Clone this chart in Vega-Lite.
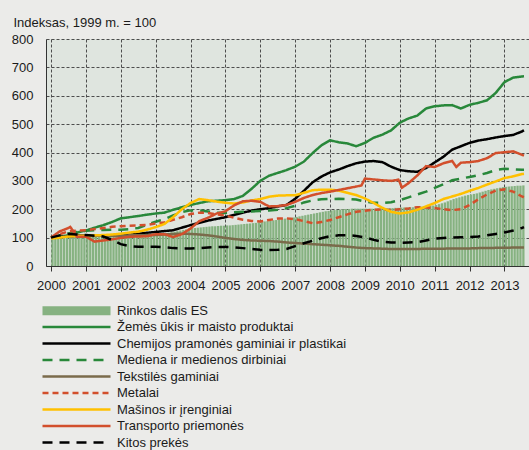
{
"$schema":"https://vega.github.io/schema/vega-lite/v6.json",
"width":483,"height":227,
"autosize":{"type":"none"},
"padding":{"left":46,"top":39,"right":0,"bottom":184},
"background":"#ebebe9",
"config":{
 "font":"Liberation Sans, Arial, sans-serif",
 "view":{"fill":"#dfe5df","stroke":null},
 "axis":{"labelFont":"Liberation Sans, Arial, sans-serif","labelFontSize":13,"labelColor":"#1a1a1a","titleFont":"Liberation Sans, Arial, sans-serif","titleFontSize":13,"titleFontWeight":"normal","titleColor":"#1a1a1a","gridColor":"#4d4d4d","gridDash":[3,2],"gridWidth":1,"domainColor":"#333333","domainWidth":1,"tickColor":"#333333"},
 "legend":{"labelFont":"Liberation Sans, Arial, sans-serif","labelFontSize":13,"labelColor":"#1a1a1a","labelLimit":400,"padding":0,"rowPadding":1.5}
},
"datasets":{
"names":[{"k":"Z","series":"Žemės ūkis ir maisto produktai"},{"k":"C","series":"Chemijos pramonės gaminiai ir plastikai"},{"k":"M","series":"Mediena ir medienos dirbiniai"},{"k":"T","series":"Tekstilės gaminiai"},{"k":"Me","series":"Metalai"},{"k":"Ma","series":"Mašinos ir įrenginiai"},{"k":"Tr","series":"Transporto priemonės"},{"k":"K","series":"Kitos prekės"}],
"lines":[
{"t":2000,"Z":100,"C":100,"M":100,"T":100,"Me":100,"Ma":97,"Tr":100,"K":100},
{"t":2000.25,"Z":104,"C":102,"M":108,"T":102,"Me":112,"Ma":100,"Tr":122,"K":108},
{"t":2000.5,"Z":108,"C":105,"M":115,"T":104,"Me":122,"Ma":104,"Tr":134,"K":113},
{"t":2000.55,"Tr":138},
{"t":2000.75,"Z":118,"C":107,"M":120,"T":105,"Me":125,"Ma":106,"Tr":103,"K":111},
{"t":2001,"Z":125,"C":108,"M":124,"T":106,"Me":126,"Ma":107,"Tr":103,"K":109},
{"t":2001.25,"Z":135,"C":107,"M":126,"T":106,"Me":130,"Ma":108,"Tr":86,"K":107},
{"t":2001.5,"Z":144,"C":106,"M":127,"T":107,"Me":134,"Ma":109,"Tr":90,"K":104},
{"t":2001.75,"Z":155,"C":107,"M":128,"T":107,"Me":138,"Ma":111,"Tr":94,"K":92},
{"t":2002,"Z":168,"C":108,"M":128,"T":107,"Me":140,"Ma":114,"Tr":99,"K":77},
{"t":2002.25,"Z":172,"C":110,"M":130,"T":108,"Me":142,"Ma":118,"Tr":103,"K":70},
{"t":2002.5,"Z":176,"C":113,"M":134,"T":108,"Me":143,"Ma":121,"Tr":104,"K":68},
{"t":2002.75,"Z":181,"C":117,"M":145,"T":109,"Me":145,"Ma":128,"Tr":105,"K":68},
{"t":2003,"Z":185,"C":120,"M":156,"T":109,"Me":150,"Ma":137,"Tr":112,"K":68},
{"t":2003.25,"Z":188,"C":123,"M":165,"T":111,"Me":153,"Ma":148,"Tr":112,"K":66},
{"t":2003.5,"Z":198,"C":126,"M":178,"T":113,"Me":163,"Ma":172,"Tr":102,"K":63},
{"t":2003.75,"Z":207,"C":135,"M":190,"T":114,"Me":172,"Ma":200,"Tr":112,"K":62},
{"t":2004,"Z":215,"C":144,"M":196,"T":113,"Me":183,"Ma":222,"Tr":132,"K":62},
{"t":2004.25,"Z":222,"C":152,"M":196,"T":111,"Me":188,"Ma":236,"Tr":158,"K":63},
{"t":2004.5,"Z":228,"C":160,"M":192,"T":108,"Me":187,"Ma":232,"Tr":170,"K":65},
{"t":2004.75,"Z":230,"C":166,"M":188,"T":104,"Me":182,"Ma":227,"Tr":185,"K":67},
{"t":2005,"Z":232,"C":172,"M":187,"T":99,"Me":178,"Ma":223,"Tr":193,"K":67},
{"t":2005.25,"Z":236,"C":180,"M":189,"T":95,"Me":170,"Ma":220,"Tr":214,"K":66},
{"t":2005.5,"Z":247,"C":188,"M":191,"T":92,"Me":163,"Ma":224,"Tr":228,"K":63},
{"t":2005.75,"Z":272,"C":195,"M":192,"T":90,"Me":159,"Ma":231,"Tr":230,"K":60},
{"t":2006,"Z":300,"C":200,"M":194,"T":89,"Me":157,"Ma":236,"Tr":226,"K":57},
{"t":2006.25,"Z":318,"C":204,"M":196,"T":88,"Me":162,"Ma":244,"Tr":210,"K":56},
{"t":2006.5,"Z":328,"C":210,"M":198,"T":86,"Me":167,"Ma":248,"Tr":211,"K":57},
{"t":2006.75,"Z":338,"C":215,"M":204,"T":83,"Me":168,"Ma":249,"Tr":215,"K":60},
{"t":2007,"Z":350,"C":237,"M":212,"T":81,"Me":165,"Ma":249,"Tr":226,"K":70},
{"t":2007.25,"Z":368,"C":265,"M":224,"T":79,"Me":158,"Ma":258,"Tr":240,"K":80},
{"t":2007.5,"Z":398,"C":295,"M":231,"T":77,"Me":151,"Ma":267,"Tr":250,"K":89},
{"t":2007.75,"Z":425,"C":315,"M":235,"T":75,"Me":155,"Ma":269,"Tr":257,"K":98},
{"t":2008,"Z":443,"C":330,"M":236,"T":73,"Me":162,"Ma":269,"Tr":262,"K":105},
{"t":2008.25,"Z":436,"C":340,"M":237,"T":71,"Me":172,"Ma":266,"Tr":268,"K":108},
{"t":2008.5,"Z":432,"C":352,"M":236,"T":68,"Me":182,"Ma":258,"Tr":274,"K":109},
{"t":2008.75,"Z":422,"C":362,"M":234,"T":65,"Me":191,"Ma":250,"Tr":280,"K":106},
{"t":2008.9,"Tr":284},
{"t":2009,"Z":434,"C":368,"M":227,"T":63,"Me":195,"Ma":238,"Tr":308,"K":101},
{"t":2009.25,"Z":452,"C":370,"M":223,"T":62,"Me":198,"Ma":222,"Tr":305,"K":92},
{"t":2009.5,"Z":463,"C":366,"M":222,"T":61,"Me":199,"Ma":205,"Tr":302,"K":85},
{"t":2009.75,"Z":478,"C":350,"M":225,"T":60,"Me":197,"Ma":191,"Tr":300,"K":83},
{"t":2009.96,"Tr":304},
{"t":2010,"Z":505,"C":338,"M":232,"T":60,"Me":200,"Ma":185,"Tr":295,"K":82},
{"t":2010.06,"Tr":276},
{"t":2010.25,"Z":520,"C":334,"M":242,"T":60,"Me":203,"Ma":189,"Tr":292,"K":83},
{"t":2010.5,"Z":530,"C":332,"M":252,"T":60,"Me":207,"Ma":198,"Tr":319,"K":84},
{"t":2010.75,"Z":555,"C":345,"M":262,"T":61,"Me":206,"Ma":210,"Tr":352,"K":90},
{"t":2011,"Z":563,"C":365,"M":275,"T":61,"Me":204,"Ma":222,"Tr":349,"K":96},
{"t":2011.25,"Z":566,"C":385,"M":288,"T":61,"Me":200,"Ma":236,"Tr":362,"K":99},
{"t":2011.5,"Z":567,"C":410,"M":302,"T":62,"Me":197,"Ma":245,"Tr":370,"K":100},
{"t":2011.62,"Tr":349},
{"t":2011.75,"Z":555,"C":422,"M":308,"T":62,"Me":200,"Ma":254,"Tr":364,"K":101},
{"t":2012,"Z":568,"C":434,"M":314,"T":62,"Me":215,"Ma":265,"Tr":366,"K":102},
{"t":2012.25,"Z":575,"C":442,"M":320,"T":63,"Me":235,"Ma":275,"Tr":370,"K":104},
{"t":2012.5,"Z":584,"C":447,"M":328,"T":63,"Me":252,"Ma":287,"Tr":380,"K":108},
{"t":2012.75,"Z":610,"C":453,"M":338,"T":64,"Me":266,"Ma":298,"Tr":398,"K":113},
{"t":2013,"Z":648,"C":458,"M":343,"T":64,"Me":270,"Ma":310,"Tr":401,"K":118},
{"t":2013.25,"Z":664,"C":462,"M":341,"T":65,"Me":262,"Ma":316,"Tr":404,"K":125},
{"t":2013.5,"Z":668,"C":474,"M":339,"T":65,"Me":245,"Ma":324,"Tr":392,"K":134},
{"t":2013.56,"Z":669,"C":478,"M":339,"T":65,"Me":242,"Ma":325,"Tr":389,"K":137}
],
"bars":[
{"t":2000.042,"v":100},{"t":2000.125,"v":100},{"t":2000.208,"v":100},{"t":2000.292,"v":101},{"t":2000.375,"v":101},{"t":2000.458,"v":101},{"t":2000.542,"v":101},{"t":2000.625,"v":102},{"t":2000.708,"v":102},{"t":2000.792,"v":102},{"t":2000.875,"v":102},{"t":2000.958,"v":102},
{"t":2001.042,"v":102},{"t":2001.125,"v":102},{"t":2001.208,"v":103},{"t":2001.292,"v":103},{"t":2001.375,"v":103},{"t":2001.458,"v":103},{"t":2001.542,"v":103},{"t":2001.625,"v":104},{"t":2001.708,"v":104},{"t":2001.792,"v":104},{"t":2001.875,"v":104},{"t":2001.958,"v":104},
{"t":2002.042,"v":104},{"t":2002.125,"v":104},{"t":2002.208,"v":105},{"t":2002.292,"v":105},{"t":2002.375,"v":105},{"t":2002.458,"v":106},{"t":2002.542,"v":106},{"t":2002.625,"v":106},{"t":2002.708,"v":107},{"t":2002.792,"v":107},{"t":2002.875,"v":108},{"t":2002.958,"v":109},
{"t":2003.042,"v":110},{"t":2003.125,"v":111},{"t":2003.208,"v":113},{"t":2003.292,"v":115},{"t":2003.375,"v":117},{"t":2003.458,"v":119},{"t":2003.542,"v":121},{"t":2003.625,"v":123},{"t":2003.708,"v":125},{"t":2003.792,"v":127},{"t":2003.875,"v":129},{"t":2003.958,"v":131},
{"t":2004.042,"v":133},{"t":2004.125,"v":134},{"t":2004.208,"v":135},{"t":2004.292,"v":136},{"t":2004.375,"v":137},{"t":2004.458,"v":138},{"t":2004.542,"v":139},{"t":2004.625,"v":140},{"t":2004.708,"v":140},{"t":2004.792,"v":141},{"t":2004.875,"v":142},{"t":2004.958,"v":142},
{"t":2005.042,"v":143},{"t":2005.125,"v":143},{"t":2005.208,"v":144},{"t":2005.292,"v":145},{"t":2005.375,"v":146},{"t":2005.458,"v":147},{"t":2005.542,"v":148},{"t":2005.625,"v":149},{"t":2005.708,"v":150},{"t":2005.792,"v":151},{"t":2005.875,"v":152},{"t":2005.958,"v":154},
{"t":2006.042,"v":156},{"t":2006.125,"v":157},{"t":2006.208,"v":158},{"t":2006.292,"v":159},{"t":2006.375,"v":161},{"t":2006.458,"v":162},{"t":2006.542,"v":164},{"t":2006.625,"v":165},{"t":2006.708,"v":167},{"t":2006.792,"v":168},{"t":2006.875,"v":170},{"t":2006.958,"v":171},
{"t":2007.042,"v":173},{"t":2007.125,"v":175},{"t":2007.208,"v":177},{"t":2007.292,"v":179},{"t":2007.375,"v":181},{"t":2007.458,"v":183},{"t":2007.542,"v":185},{"t":2007.625,"v":187},{"t":2007.708,"v":189},{"t":2007.792,"v":191},{"t":2007.875,"v":193},{"t":2007.958,"v":194},
{"t":2008.042,"v":196},{"t":2008.125,"v":197},{"t":2008.208,"v":198},{"t":2008.292,"v":199},{"t":2008.375,"v":200},{"t":2008.458,"v":201},{"t":2008.542,"v":201},{"t":2008.625,"v":202},{"t":2008.708,"v":202},{"t":2008.792,"v":202},{"t":2008.875,"v":202},{"t":2008.958,"v":202},
{"t":2009.042,"v":202},{"t":2009.125,"v":202},{"t":2009.208,"v":202},{"t":2009.292,"v":202},{"t":2009.375,"v":203},{"t":2009.458,"v":203},{"t":2009.542,"v":203},{"t":2009.625,"v":203},{"t":2009.708,"v":204},{"t":2009.792,"v":204},{"t":2009.875,"v":205},{"t":2009.958,"v":205},
{"t":2010.042,"v":206},{"t":2010.125,"v":206},{"t":2010.208,"v":206},{"t":2010.292,"v":207},{"t":2010.375,"v":207},{"t":2010.458,"v":208},{"t":2010.542,"v":208},{"t":2010.625,"v":209},{"t":2010.708,"v":210},{"t":2010.792,"v":211},{"t":2010.875,"v":212},{"t":2010.958,"v":213},
{"t":2011.042,"v":215},{"t":2011.125,"v":218},{"t":2011.208,"v":221},{"t":2011.292,"v":224},{"t":2011.375,"v":228},{"t":2011.458,"v":232},{"t":2011.542,"v":236},{"t":2011.625,"v":239},{"t":2011.708,"v":242},{"t":2011.792,"v":245},{"t":2011.875,"v":248},{"t":2011.958,"v":250},
{"t":2012.042,"v":252},{"t":2012.125,"v":254},{"t":2012.208,"v":256},{"t":2012.292,"v":259},{"t":2012.375,"v":262},{"t":2012.458,"v":265},{"t":2012.542,"v":268},{"t":2012.625,"v":270},{"t":2012.708,"v":272},{"t":2012.792,"v":274},{"t":2012.875,"v":276},{"t":2012.958,"v":278},
{"t":2013.042,"v":279},{"t":2013.125,"v":280},{"t":2013.208,"v":281},{"t":2013.292,"v":282},{"t":2013.375,"v":283},{"t":2013.458,"v":283},{"t":2013.542,"v":284}
]
},
"encoding":{
 "x":{"field":"t","type":"quantitative","scale":{"domain":[2000,2013.56],"nice":false,"zero":false},
  "axis":{"title":null,"values":[2000,2000.5,2001,2001.5,2002,2002.5,2003,2003.5,2004,2004.5,2005,2005.5,2006,2006.5,2007,2007.5,2008,2008.5,2009,2009.5,2010,2010.5,2011,2011.5,2012,2012.5,2013,2013.5],"format":"d","labelExpr":"datum.value % 1 === 0 ? datum.label : ''","labelOverlap":false,"labelFlush":false,"labelBound":false,"tickSize":5,"labelPadding":8,"grid":true,"gridOpacity":{"condition":{"test":"datum.value % 1 === 0","value":1},"value":0}}},
 "y":{"field":"v","type":"quantitative","scale":{"domain":[0,800],"nice":false},
  "axis":{"title":"Indeksas, 1999 m. = 100","titleAngle":0,"titleAlign":"left","titleBaseline":"alphabetic","titleX":-33,"titleY":-12.5,"values":[0,100,200,300,400,500,600,700,800],"ticks":false,"labelPadding":13,"grid":true}}
},
"layer":[
 {"data":{"name":"bars"},"mark":{"type":"bar","orient":"vertical","width":2.3},
  "encoding":{"fill":{"datum":"Rinkos dalis ES","type":"nominal","scale":{"range":["#86b281"]},
   "legend":{"orient":"none","legendX":24,"legendY":265.2,"title":null,"symbolType":"M-5.667,-0.75H5.667V0.75H-5.667Z","symbolSize":144,"symbolStrokeWidth":0,"symbolOpacity":1,"labelOffset":34}}}},
 {"data":{"name":"lines"},
  "transform":[{"fold":["Z","C","M","T","Me","Ma","Tr","K"],"as":["k","v"]},{"filter":"isValid(datum.v)"},{"lookup":"k","from":{"data":{"name":"names"},"key":"k","fields":["series"]}}],
  "mark":{"type":"line","strokeWidth":2.5},
  "encoding":{
   "stroke":{"field":"series","type":"nominal","scale":{"domain":["Žemės ūkis ir maisto produktai","Chemijos pramonės gaminiai ir plastikai","Mediena ir medienos dirbiniai","Tekstilės gaminiai","Metalai","Mašinos ir įrenginiai","Transporto priemonės","Kitos prekės"],"range":["#28883a","#000000","#28883a","#7a6b4b","#d24f2c","#ffc000","#d24f2c","#000000"]},
    "legend":{"orient":"none","legendX":23,"legendY":280.5,"title":null,"symbolType":"M-5.667,0H5.667","symbolSize":144,"symbolStrokeWidth":2.5,"labelOffset":33}},
   "strokeDash":{"field":"series","type":"nominal","scale":{"domain":["Žemės ūkis ir maisto produktai","Chemijos pramonės gaminiai ir plastikai","Mediena ir medienos dirbiniai","Tekstilės gaminiai","Metalai","Mašinos ir įrenginiai","Transporto priemonės","Kitos prekės"],"range":[[1,0],[1,0],[10,7],[1,0],[6,4],[1,0],[1,0],[10,7]]},
    "legend":{"orient":"none","legendX":23,"legendY":280.5,"title":null,"symbolType":"M-5.667,0H5.667","symbolSize":144,"symbolStrokeWidth":2.5,"labelOffset":33}}
  }}
]
}
